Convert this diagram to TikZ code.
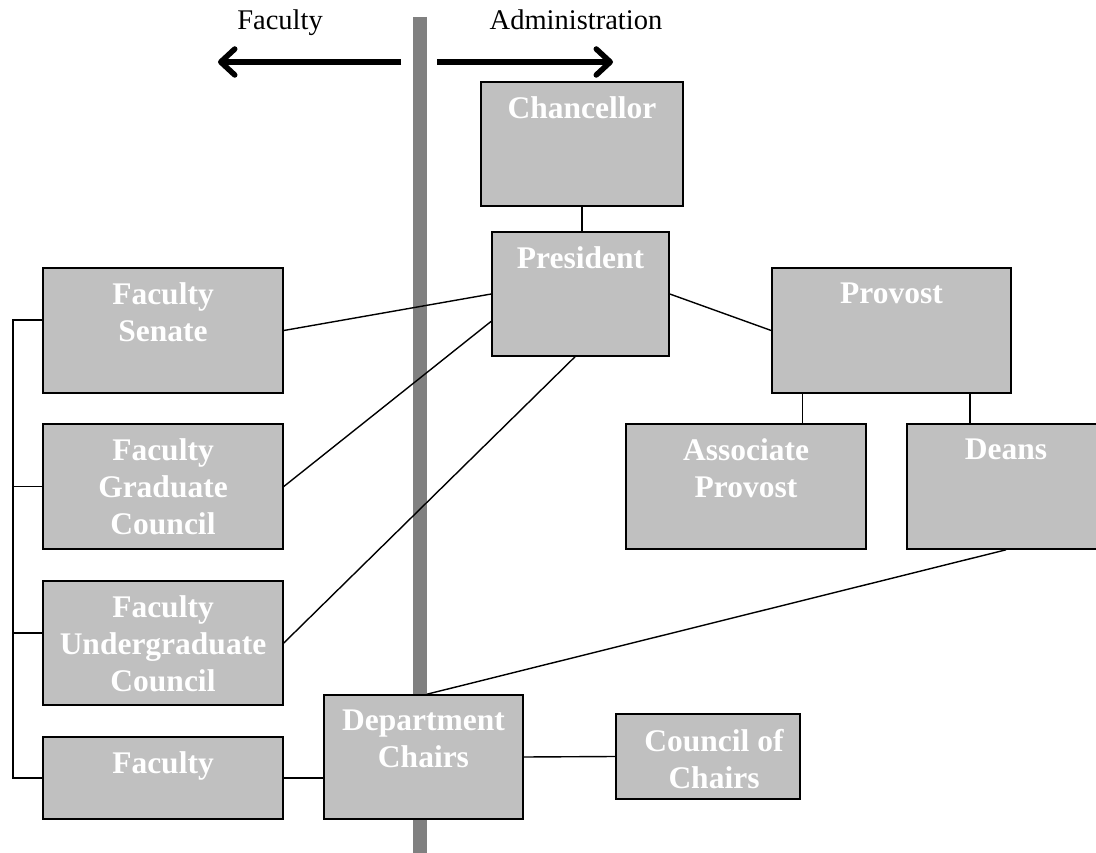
\documentclass[tikz,border=0pt]{standalone}
\usepackage{fontspec}
\setmainfont{Liberation Serif}
\usetikzlibrary{arrows.meta}
\definecolor{boxgray}{RGB}{192,192,192}
\definecolor{bargray}{RGB}{128,128,128}
\begin{document}
\begin{tikzpicture}[
		x=1pt, y=-1pt,
		box/.style = {
			rectangle,
			draw,
			line width = 1.6pt,
			fill = boxgray,
			inner sep = 0pt
		},
		boxtext/.style = {
			anchor = north,
			align = center,
			text = white,
			inner sep = 0pt,
			font = \fontsize{31.5}{37}\selectfont\bfseries
		},
		side/.style = {
			anchor = base,
			inner sep = 0pt,
			font = \fontsize{28.5}{34}\selectfont
		},
		link/.style = {
			line width = 1.4pt
		},
		head/.style = {
			line width = 5.5pt,
			-{Straight Barb[length=14pt, width=26pt, round]}
		}
	]
	\useasboundingbox (0,0) rectangle (1096,853);

	% divider between the two sides
	\coordinate (bartop) at (420,17);
	\coordinate (barbottom) at (420,853);
	\draw[bargray, line width=14pt] (bartop) -- (barbottom);

	\node[side] (facultyside) at (280,30) {Faculty};
	\node[side] (adminside)   at (576,30) {Administration};
	\coordinate (leftstart)  at (401,62);
	\coordinate (leftend)    at (218,62);
	\coordinate (rightstart) at (437,62);
	\coordinate (rightend)   at (613,62);
	\draw[head] (leftstart) -- (leftend);
	\draw[head] (rightstart) -- (rightend);

	% boxes
	\node[box, minimum width=202pt, minimum height=124pt] (chancellor)  at (582,144)    {};
	\node[box, minimum width=177pt, minimum height=124pt] (president)   at (580.5,294)  {};
	\node[box, minimum width=239pt, minimum height=125pt] (provost)     at (891.5,330.5) {};
	\node[box, minimum width=240pt, minimum height=125pt] (assoc)       at (746,486.5)  {};
	\node[box, minimum width=198pt, minimum height=125pt] (deans)       at (1006,486.5) {};
	\node[box, minimum width=240pt, minimum height=125pt] (senate)      at (163,330.5)  {};
	\node[box, minimum width=240pt, minimum height=125pt] (gradcouncil) at (163,486.5)  {};
	\node[box, minimum width=240pt, minimum height=124pt] (ugcouncil)   at (163,643)    {};
	\node[box, minimum width=240pt, minimum height=82pt]  (faculty)     at (163,778)    {};
	\node[box, minimum width=199pt, minimum height=124pt] (chairs)      at (423.5,757)  {};
	\node[box, minimum width=184pt, minimum height=85pt]  (council)     at (708,756.5)  {};

	\node[boxtext] (chancellor-t)  at ([yshift=-15.5pt]chancellor.north)  {Chancellor};
	\node[boxtext] (president-t)   at ([yshift=-15.5pt]president.north)   {President};
	\node[boxtext] (provost-t)     at ([yshift=-15.5pt]provost.north)     {Provost};
	\node[boxtext] (assoc-t)       at ([yshift=-15.5pt]assoc.north)       {Associate\\Provost};
	\node[boxtext] (deans-t)       at ([yshift=-15.5pt]deans.north)       {Deans};
	\node[boxtext] (senate-t)      at ([yshift=-15.5pt]senate.north)      {Faculty\\Senate};
	\node[boxtext] (gradcouncil-t) at ([yshift=-15.5pt]gradcouncil.north) {Faculty\\Graduate\\Council};
	\node[boxtext] (ugcouncil-t)   at ([yshift=-15.5pt]ugcouncil.north)   {Faculty\\Undergraduate\\Council};
	\node[boxtext] (faculty-t)     at ([yshift=-15.5pt]faculty.north)     {Faculty};
	\node[boxtext] (chairs-t)      at ([yshift=-15.5pt]chairs.north)      {Department\\Chairs};
	\node[boxtext] (council-t)     at ([xshift=6pt,yshift=-15.5pt]council.north) {Council of\\Chairs};

	% links
	\draw[link] (chancellor.south) -- (chancellor.south |- president.north);
	\draw[link] (senate.east) -- (president.west);
	\draw[link] (gradcouncil.east) -- (president.197);
	\draw[link] (ugcouncil.east) -- (president.265);
	\draw[link] (president.east) -- (provost.west);
	\draw[link] ([xshift=31pt]provost.south west) -- ([xshift=31pt]provost.south west |- assoc.north);
	\draw[link] ([xshift=-42pt]provost.south east) -- ([xshift=-42pt]provost.south east |- deans.north);
	\draw[link] (deans.south) -- ([xshift=3.5pt]chairs.north);
	\draw[link] (faculty.east) -- (faculty.east -| chairs.west);
	\draw[link] (chairs.east) -- (council.west);

	% bracket on the faculty side
	\coordinate (spine) at (13,0);
	\draw[link] ([yshift=10.5pt]senate.west) -| (spine |- faculty.west) -- (faculty.west);
	\draw[link] (gradcouncil.west) -- (gradcouncil.west -| spine);
	\draw[link] ([yshift=10pt]ugcouncil.west) -- ([yshift=10pt]ugcouncil.west -| spine);
\end{tikzpicture}
\end{document}
